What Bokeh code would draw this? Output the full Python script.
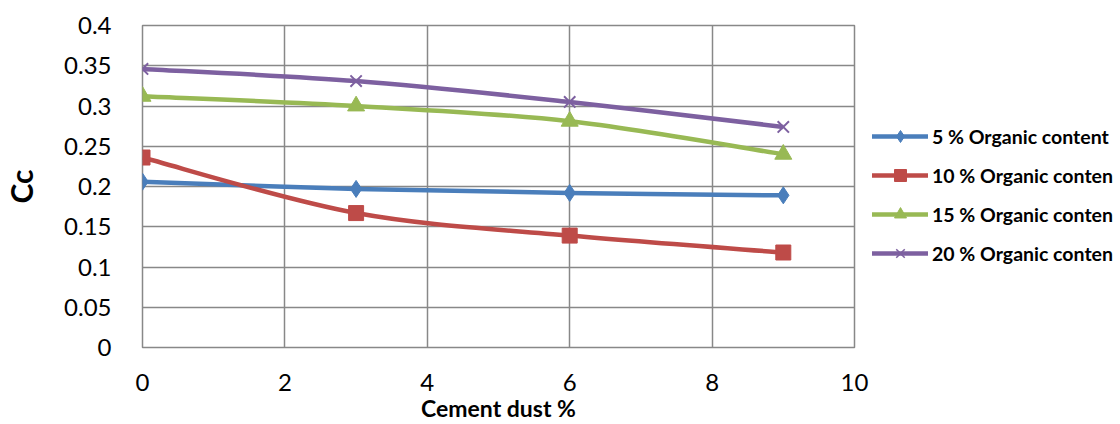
from bokeh.plotting import figure
from bokeh.layouts import row
from bokeh.models import FixedTicker, Legend, LegendItem, ColumnDataSource
from bokeh.embed import file_html
from bokeh.resources import INLINE

cement_dust = [0, 3, 6, 9]
cc_5 = [0.206, 0.197, 0.192, 0.189]
cc_10 = [0.236, 0.167, 0.139, 0.118]
cc_15 = [0.312, 0.300, 0.281, 0.240]
cc_20 = [0.346, 0.331, 0.305, 0.274]
series_names = ["5 % Organic content", "10 % Organic conten",
                "15 % Organic conten", "20 % Organic conten"]
x_ticks = [0, 2, 4, 6, 8, 10]
y_ticks = [0, 0.05, 0.1, 0.15, 0.2, 0.25, 0.3, 0.35, 0.4]
y_tick_labels = ["0", "0.05", "0.1", "0.15", "0.2", "0.25", "0.3", "0.35", "0.4"]

colors = ["#4A7EBB", "#BE4B48", "#98B954", "#7D60A0"]
markers = ["diamond", "square", "triangle", "x"]
msizes = [17, 15, 17, 16]

FONT = "Lato"

p = figure(width=870, height=424, x_range=(0, 10), y_range=(0, 0.4),
           output_backend="svg", toolbar_location=None,
           min_border_left=142, min_border_right=16,
           min_border_top=25, min_border_bottom=77)
p.background_fill_color = "white"
p.border_fill_color = "white"
p.outline_line_color = "#888888"
p.outline_line_width = 1.5

for ax in (p.xaxis[0], p.yaxis[0]):
    ax.axis_line_color = None
    ax.major_tick_line_color = None
    ax.minor_tick_line_color = None
    ax.major_label_text_font = FONT
    ax.major_label_text_font_size = "24px"
    ax.major_label_text_color = "black"
    ax.axis_label_text_font = FONT
    ax.axis_label_text_font_style = "bold"
    ax.axis_label_text_color = "black"

p.xaxis.ticker = FixedTicker(ticks=x_ticks)
p.yaxis.ticker = FixedTicker(ticks=y_ticks)
p.yaxis.major_label_overrides = {t: l for t, l in zip(y_ticks, y_tick_labels)}
p.xaxis.major_label_standoff = 20
p.yaxis.major_label_standoff = 25
p.xaxis.axis_label = "Cement dust %"
p.xaxis.axis_label_text_font_size = "23px"
p.xaxis.axis_label_standoff = 0
p.yaxis.axis_label = "Cc"
p.yaxis.axis_label_text_font_size = "30px"
p.yaxis.axis_label_standoff = 22

for g in (p.xgrid[0], p.ygrid[0]):
    g.grid_line_color = "#888888"
    g.grid_line_width = 1.5
p.xgrid.ticker = FixedTicker(ticks=x_ticks)
p.ygrid.ticker = FixedTicker(ticks=y_ticks)


def smooth_segments(xs, ys):
    n = len(xs)
    x0, y0, x1, y1, cx0, cy0, cx1, cy1 = ([] for _ in range(8))
    for i in range(n - 1):
        xm, ym = (xs[i - 1], ys[i - 1]) if i > 0 else (xs[i], ys[i])
        xp, yp = (xs[i + 2], ys[i + 2]) if i + 2 < n else (xs[i + 1], ys[i + 1])
        x0.append(xs[i]); y0.append(ys[i])
        x1.append(xs[i + 1]); y1.append(ys[i + 1])
        cx0.append(xs[i] + (xs[i + 1] - xm) / 6); cy0.append(ys[i] + (ys[i + 1] - ym) / 6)
        cx1.append(xs[i + 1] - (xp - xs[i]) / 6); cy1.append(ys[i + 1] - (yp - ys[i]) / 6)
    return dict(x0=x0, y0=y0, x1=x1, y1=y1, cx0=cx0, cy0=cy0, cx1=cx1, cy1=cy1)


# legend panel: a separate figure to the right whose ranges keep its own
# copies of the series out of view, so only the legend shows
q = figure(width=250, height=424, x_range=(100, 101), y_range=(100, 101),
           output_backend="svg", toolbar_location=None,
           min_border_left=0, min_border_right=0, min_border_top=0, min_border_bottom=0)
q.axis.visible = False
q.grid.visible = False
q.outline_line_color = None
q.background_fill_color = "white"
q.border_fill_color = "white"

items = []
for name, ys, c, m, s in zip(series_names, [cc_5, cc_10, cc_15, cc_20], colors, markers, msizes):
    src = ColumnDataSource(smooth_segments(cement_dust, ys))
    p.bezier(x0="x0", y0="y0", x1="x1", y1="y1", cx0="cx0", cy0="cy0",
             cx1="cx1", cy1="cy1", source=src, line_color=c, line_width=4.5)
    if m == "x":
        p.scatter(cement_dust, ys, marker=m, size=s, line_color=c, line_width=2)
        lm = q.scatter(cement_dust, ys, marker=m, size=11, line_color=c, line_width=1.5)
    else:
        p.scatter(cement_dust, ys, marker=m, size=s, fill_color=c, line_color=c)
        lm = q.scatter(cement_dust, ys, marker=m, size=11, fill_color=c, line_color=c)
    ll = q.line(cement_dust, ys, line_color=c, line_width=4.5, line_cap="round")
    items.append(LegendItem(label=name, renderers=[ll, lm]))

legend = Legend(items=items, location=(2, 79), orientation="vertical",
                glyph_width=56, glyph_height=30, spacing=9, label_standoff=4,
                label_text_font=FONT, label_text_font_style="bold",
                label_text_font_size="19.5px", label_text_color="black",
                border_line_color=None, background_fill_alpha=0,
                padding=0, margin=0)
q.add_layout(legend)

layout = row(p, q, spacing=0)
open("out.html", "w").write(file_html(layout, INLINE))
